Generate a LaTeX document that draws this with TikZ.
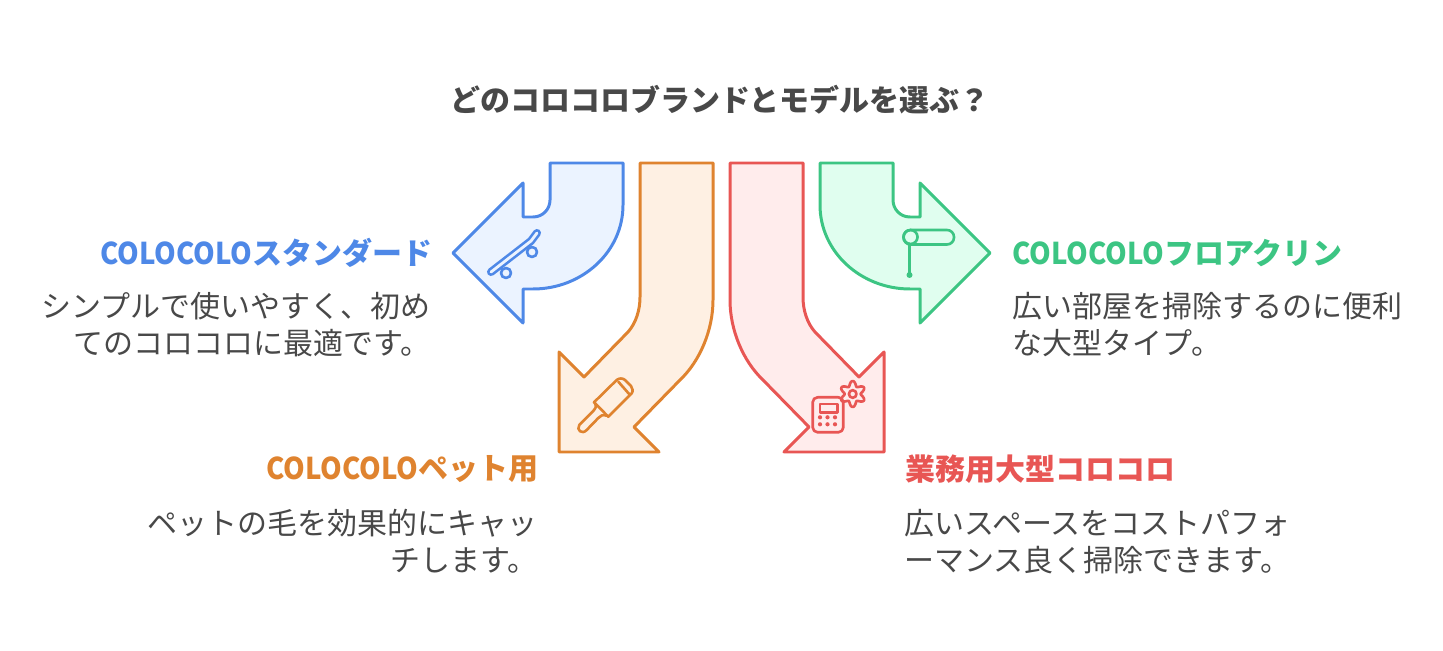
\documentclass[tikz,border=0pt]{standalone}
\usepackage{fontspec}
\setmainfont{Noto Sans CJK JP}
\newfontfamily\colofont[FakeStretch=0.92]{Noto Sans CJK JP}

\definecolor{inkgray}{HTML}{484848}
\definecolor{stdblue}{HTML}{4E88E7}
\definecolor{stdfill}{HTML}{EBF3FF}
\definecolor{petorange}{HTML}{DF832F}
\definecolor{petfill}{HTML}{FEF0E3}
\definecolor{bizred}{HTML}{E85654}
\definecolor{bizfill}{HTML}{FFECEC}
\definecolor{floorgreen}{HTML}{3CC583}
\definecolor{floorfill}{HTML}{E0FEEF}

\tikzset{
  bend arrow/.style={line width=1.7pt, line join=round},
  icon/.style={line width=1.5pt, line cap=round, line join=round},
  heading/.style={inner sep=0pt, font=\fontsize{17.07}{21}\selectfont\bfseries},
  body/.style={inner sep=0pt, text=inkgray, font=\fontsize{17.07}{21.06}\selectfont}
}

\begin{document}
\begin{tikzpicture}[x=0.02cm, y=-0.02cm]
      \useasboundingbox (0, 0) rectangle (1443, 651);

      \node [heading, text=inkgray] (title) at (720, 100) {どのコロコロブランドとモデルを選ぶ？};

      % blue arrow
      \draw [bend arrow, draw=stdblue, fill=stdfill] (550, 163) -- (623, 163) -- (623, 205)
        .. controls (623, 252) and (582, 289) .. (533, 289) -- (523, 289) -- (523, 323) -- (453, 253) -- (523, 183) -- (523, 217) -- (533, 217)
        .. controls (543, 217) and (550, 209) .. (550, 200) -- cycle;
      \draw [line width=4.6pt, line cap=round, draw=stdblue] (491, 272) -- (531, 241) -- (537, 233);
      \draw [line width=1.6pt, line cap=round, draw=stdfill] (491, 272) -- (531, 241) -- (537, 233);
      \draw [icon, draw=stdblue] (506, 273) circle (5);
      \draw [icon, draw=stdblue] (532, 252) circle (5);
      \node [heading, text=stdblue, anchor=east] (stdhead) at (432.5, 253) {{\colofont COLOCOLO}スタンダード};
      \node [body, anchor=east, align=right] (stdbody) at (431, 324.5) {シンプルで使いやすく、初め\\てのコロコロに最適です。};

      % orange arrow
      \draw [bend arrow, draw=petorange, fill=petfill] (640, 163) -- (713, 163) -- (713, 300)
        .. controls (713, 330) and (700, 361) .. (680, 380) -- (634, 427) -- (659, 452) -- (559, 452) -- (559, 352) -- (584, 377) -- (628, 332)
        .. controls (636, 323) and (640, 310) .. (640, 297) -- cycle;
      \draw [icon, draw=petorange] (594, 402.3) -- (616.7, 380) .. controls (619, 378) and (623, 378) .. (625, 380)
        -- (631, 386) .. controls (633, 388) and (633, 392) .. (631.7, 393.3) -- (608.3, 416.7) -- cycle;
      \draw [icon, draw=petorange] (618.3, 381.7) -- (630, 395);
      \draw [icon, draw=petorange] (595, 403.3) .. controls (597, 407) and (595, 409) .. (593.3, 411) -- (579.3, 425)
        .. controls (576, 430) and (582, 435) .. (586.7, 430) -- (598.3, 418) .. controls (600, 416) and (603, 414) .. (606.7, 415.7);
      \node [heading, text=petorange, anchor=east] (pethead) at (538.5, 469) {{\colofont COLOCOLO}ペット用};
      \node [body, anchor=east, align=right] (petbody) at (537.5, 541.5) {ペットの毛を効果的にキャッ\\チします。};

      % red arrow
      \draw [bend arrow, draw=bizred, fill=bizfill] (730, 163) -- (803, 163) -- (803, 297)
        .. controls (803, 310) and (807, 323) .. (815, 332) -- (859, 377) -- (884, 352) -- (884, 452) -- (784, 452) -- (809, 427) -- (763, 380)
        .. controls (743, 361) and (730, 330) .. (730, 300) -- cycle;
      \draw [icon, draw=bizred, rounded corners=2.8pt] (812.7, 397.3) rectangle (843.3, 432.3);
      \draw [icon, draw=bizred] (820, 404) rectangle (837.3, 412.7);
      \foreach \dotx in {820, 827.5, 835} {
        \foreach \doty in {417.3, 424.3} {
          \fill [bizred] (\dotx, \doty) circle (2.1);
        }
      }
      \draw [icon, draw=bizred] plot [domain=0:360, samples=73, smooth] ({852.7+(10.5-2.5*cos(6*\x))*cos(\x)}, {394+(10.5-2.5*cos(6*\x))*sin(\x)}) -- cycle;
      \draw [icon, draw=bizred] (852.7, 394) circle (3.8);
      \node [heading, text=bizred, anchor=west] (bizhead) at (905, 469) {業務用大型コロコロ};
      \node [body, anchor=west, align=left] (bizbody) at (904, 541.5) {広いスペースをコストパフォ\\ーマンス良く掃除できます。};

      % green arrow
      \draw [bend arrow, draw=floorgreen, fill=floorfill] (820, 163) -- (893, 163) -- (893, 200)
        .. controls (893, 209) and (900, 217) .. (910, 217) -- (920, 217) -- (920, 183) -- (990, 253) -- (920, 323) -- (920, 289) -- (910, 289)
        .. controls (861, 289) and (820, 252) .. (820, 205) -- cycle;
      \draw [icon, draw=floorgreen, rounded corners=4pt] (903.5, 230) rectangle (954, 244.5);
      \draw [icon, draw=floorgreen] (910.5, 237) circle (7);
      \draw [icon, draw=floorgreen] (909.5, 244) -- (909.5, 274);
      \fill [floorgreen] (909.5, 275) circle (3);
      \node [heading, text=floorgreen, anchor=west] (floorhead) at (1012, 253) {{\colofont COLOCOLO}フロアクリン};
      \node [body, anchor=west, align=left] (floorbody) at (1012, 324.5) {広い部屋を掃除するのに便利\\な大型タイプ。};
    \end{tikzpicture}
\end{document}
